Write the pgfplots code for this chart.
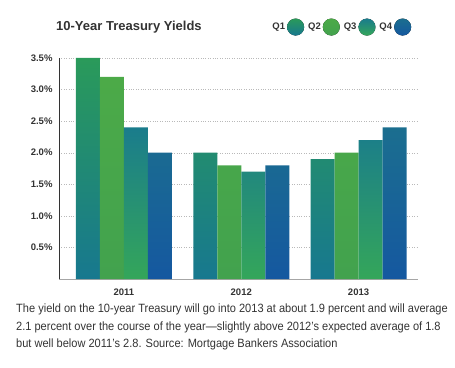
\documentclass[border=0pt]{standalone}
\usepackage{pgfplots}
\pgfplotsset{compat=1.18}
\usepackage{fontspec}
\setmainfont{Liberation Sans}
\newfontfamily\capfont[FakeStretch=0.92]{Liberation Sans}
\definecolor{qonetop}{HTML}{2A9A5A}
\definecolor{qonebot}{HTML}{17788F}
\definecolor{qtwotop}{HTML}{4CAA48}
\definecolor{qtwobot}{HTML}{42A24E}
\definecolor{qthreetop}{HTML}{1A7C8C}
\definecolor{qthreebot}{HTML}{34A65A}
\definecolor{qfourtop}{HTML}{1B6E8F}
\definecolor{qfourbot}{HTML}{1558A0}
\definecolor{txt}{HTML}{333333}
\begin{document}
\begin{tikzpicture}[x=1pt,y=1pt]
\path[use as bounding box] (0,0) rectangle (455,367);
\begin{axis}[
  at={(59pt,88pt)}, anchor=south west,
  scale only axis, width=359pt, height=221pt,
  xmin=-0.554, xmax=2.507, ymin=0, ymax=3.5,
  ybar=0pt, bar width=24pt,
  axis x line*=bottom, axis y line*=left,
  x axis line style={draw=gray!70, line width=0.8pt, -},
  y axis line style={draw=txt, line width=0.8pt, -},
  xtick={0,1,2}, xticklabels={2011,2012,2013},
  ytick={0.5,1,1.5,2,2.5,3,3.5},
  major tick length=0pt,
  /pgf/number format/assume math mode=true,
  yticklabel={\pgfmathprintnumber[fixed,fixed zerofill,precision=1]{\tick}\%},
  yticklabel style={font=\bfseries\fontsize{9.5}{11}\selectfont, text=txt, xshift=-3pt},
  xticklabel style={font=\bfseries\fontsize{9.5}{11}\selectfont, text=txt, yshift=-6pt},
  ymajorgrids, grid style={dotted, gray!55},
  legend style={at={(axis description cs:0.785,1.14)}, anchor=center, draw=none,
    fill=none, font=\bfseries\fontsize{9.5}{11}\selectfont, text=txt,
    /tikz/every even column/.append style={column sep=2pt},
    /tikz/every odd column/.append style={column sep=0pt}},
  legend columns=4, legend plot pos=right,
  legend image code/.code={\fill[#1] (0.28cm,0) circle (8.5pt);},
]
\addplot[draw=none, top color=qonetop, bottom color=qonebot] coordinates {(0,3.5) (1,2.0) (2,1.9)};
\addlegendentry{Q1}
\addplot[draw=none, top color=qtwotop, bottom color=qtwobot] coordinates {(0,3.2) (1,1.8) (2,2.0)};
\addlegendentry{Q2}
\addplot[draw=none, top color=qthreetop, bottom color=qthreebot] coordinates {(0,2.4) (1,1.7) (2,2.2)};
\addlegendentry{Q3}
\addplot[draw=none, top color=qfourtop, bottom color=qfourbot] coordinates {(0,2.0) (1,1.8) (2,2.4)};
\addlegendentry{Q4}
\end{axis}
\node[anchor=west, inner sep=0, text=txt, font=\bfseries\fontsize{13}{15}\selectfont] at (56,340) {10-Year Treasury Yields};
\node[anchor=north west, inner sep=0, align=left, text=txt, font=\capfont\fontsize{12}{17.5}\selectfont] at (16,63)
{The yield on the 10-year Treasury will go into 2013 at about 1.9 percent and will average\\
2.1 percent over the course of the year—slightly above 2012’s expected average of 1.8\\
but well below 2011’s 2.8. Source: Mortgage Bankers Association};
\end{tikzpicture}
\end{document}
